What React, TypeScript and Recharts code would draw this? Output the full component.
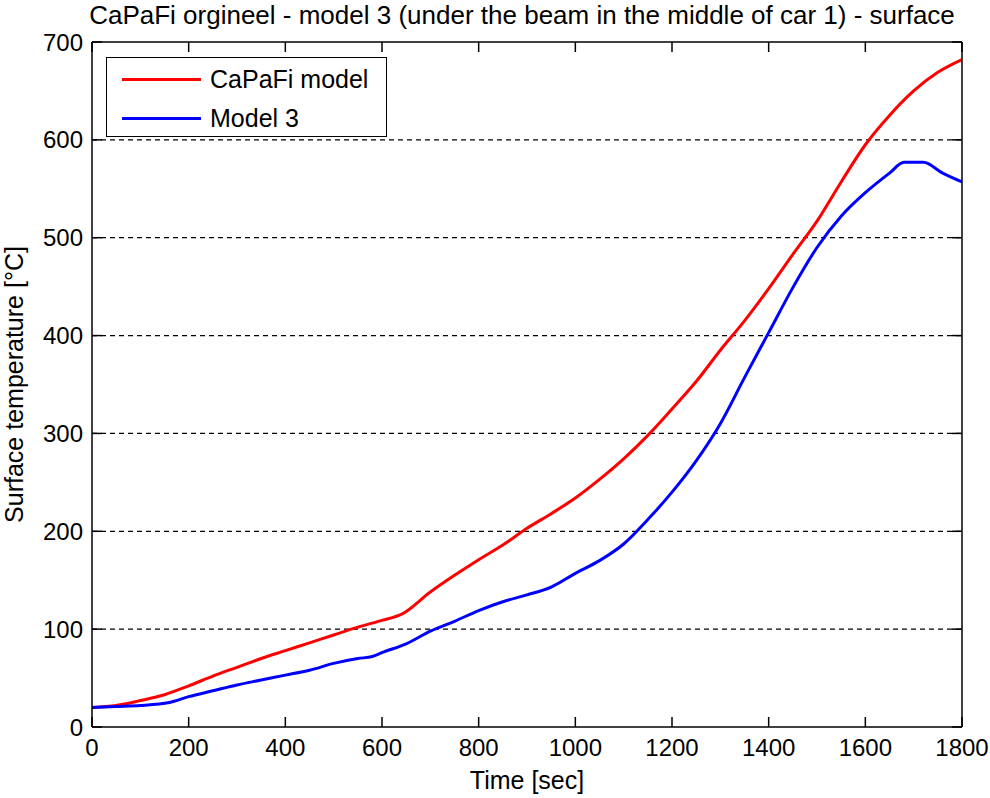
import React from 'react';
import { LineChart, Line, XAxis, YAxis, CartesianGrid, Legend } from 'recharts';

const FONT = '"Liberation Sans", Arial, Helvetica, sans-serif';

const titleText = 'CaPaFi orgineel - model 3 (under the beam in the middle of car 1) - surface';
const xLabel = 'Time [sec]';
const yLabel = 'Surface temperature [°C]';

const xTicks = [0, 200, 400, 600, 800, 1000, 1200, 1400, 1600, 1800];
const yTicks = [0, 100, 200, 300, 400, 500, 600, 700];

const redName = 'CaPaFi model';
const redTimes = [0, 50, 100, 150, 200, 250, 300, 350, 400, 450, 500, 550, 600, 640, 700, 750, 800, 850, 900, 950, 1000, 1050, 1100, 1150, 1200, 1250, 1300, 1350, 1400, 1450, 1500, 1550, 1600, 1650, 1700, 1750, 1800];
const redValues = [20, 22, 27, 33, 42, 52, 61, 70, 78, 86, 94, 102, 109, 115, 138, 155, 171, 186, 203, 218, 234, 253, 274, 298, 325, 353, 385, 415, 448, 483, 517, 557, 595, 625, 650, 669, 682];

const blueName = 'Model 3';
const blueTimes = [0, 50, 100, 160, 200, 250, 300, 350, 400, 450, 500, 550, 580, 600, 650, 700, 750, 800, 850, 900, 950, 1000, 1050, 1100, 1150, 1200, 1250, 1300, 1350, 1400, 1450, 1500, 1550, 1600, 1650, 1680, 1720, 1760, 1800];
const blueValues = [20, 21, 22, 25, 31, 37, 43, 48, 53, 58, 65, 70, 72, 76, 85, 98, 108, 119, 128, 135, 143, 157, 170, 187, 212, 240, 272, 310, 357, 403, 449, 490, 522, 546, 566, 577, 577, 566, 557];

const redData = redTimes.map((t, i) => ({ t, v: redValues[i] }));
const blueData = blueTimes.map((t, i) => ({ t, v: blueValues[i] }));

const tickStyle = { fill: '#000', fontSize: 24, fontFamily: FONT };
const lineStyle = { stroke: '#000', strokeWidth: 1.5 };

function LegendBox(props: any) {
  const payload = props.payload || [];
  return (
    <div
      style={{
        width: 281,
        height: 80,
        boxSizing: 'border-box',
        border: '1.5px solid #000',
        background: '#fff',
        fontFamily: FONT,
        fontSize: 25,
        position: 'relative',
      }}
    >
      {payload.map((p: any, i: number) => (
        <div
          key={p.value}
          style={{ position: 'absolute', left: 15, top: 8 + i * 39, height: 26, display: 'flex', alignItems: 'center' }}
        >
          <div style={{ width: 79, height: 3, background: p.color }} />
          <span style={{ marginLeft: 9, color: '#000', lineHeight: '26px', whiteSpace: 'nowrap' }}>{p.value}</span>
        </div>
      ))}
    </div>
  );
}

const Empty = () => <g />;

export default function App() {
  return (
    <div style={{ position: 'absolute', left: 0, top: 0, width: 990, height: 798, background: '#fff' }}>
      <div
        style={{
          position: 'absolute',
          left: 87,
          top: 2,
          width: 870,
          textAlign: 'center',
          fontFamily: FONT,
          fontSize: 26,
          lineHeight: '26px',
          color: '#000',
          whiteSpace: 'nowrap',
          zIndex: 2,
        }}
      >
        {titleText}
      </div>
      <LineChart width={990} height={798} margin={{ top: 40, right: 0, bottom: 0, left: 0 }}>
        <CartesianGrid
          xAxisId="b"
          yAxisId="l"
          horizontal
          vertical={false}
          stroke="#000"
          strokeWidth={1.2}
          strokeDasharray="5 4"
          horizontalValues={[100, 200, 300, 400, 500, 600]}
        />
        <XAxis
          xAxisId="b"
          dataKey="t"
          type="number"
          domain={[0, 1800]}
          ticks={xTicks}
          allowDataOverflow
          height={71}
          tickSize={-10}
          tickMargin={22}
          tick={tickStyle}
          axisLine={lineStyle}
          tickLine={lineStyle}
          interval={0}
          label={{ value: xLabel, position: 'center', dy: 18, fill: '#000', fontSize: 25, fontFamily: FONT }}
        />
        <XAxis
          xAxisId="top"
          orientation="top"
          dataKey="t"
          type="number"
          domain={[0, 1800]}
          ticks={xTicks}
          allowDataOverflow
          height={2}
          tickSize={-10}
          tick={Empty}
          axisLine={lineStyle}
          tickLine={lineStyle}
          interval={0}
        />
        <YAxis
          yAxisId="l"
          type="number"
          domain={[0, 700]}
          ticks={yTicks}
          allowDataOverflow
          width={92}
          tickSize={-10}
          tickMargin={19}
          tick={tickStyle}
          axisLine={lineStyle}
          tickLine={lineStyle}
          interval={0}
          label={{ value: yLabel, position: 'center', angle: -90, dx: -32, fill: '#000', fontSize: 25, fontFamily: FONT }}
        />
        <YAxis
          yAxisId="r"
          orientation="right"
          type="number"
          domain={[0, 700]}
          ticks={yTicks}
          allowDataOverflow
          width={28}
          tickSize={-10}
          tick={Empty}
          axisLine={lineStyle}
          tickLine={lineStyle}
          interval={0}
        />
        <Legend
          layout="vertical"
          align="center"
          verticalAlign="middle"
          content={<LegendBox />}
          wrapperStyle={{ left: 106, top: 57, width: 281, height: 80 }}
        />
        <Line
          xAxisId="b"
          yAxisId="l"
          data={redData}
          dataKey="v"
          name={redName}
          type="monotone"
          stroke="#ff0000"
          strokeWidth={3}
          dot={false}
          activeDot={false}
          isAnimationActive={false}
        />
        <Line
          xAxisId="b"
          yAxisId="l"
          data={blueData}
          dataKey="v"
          name={blueName}
          type="monotone"
          stroke="#0000ff"
          strokeWidth={3}
          dot={false}
          activeDot={false}
          isAnimationActive={false}
        />
      </LineChart>
    </div>
  );
}
